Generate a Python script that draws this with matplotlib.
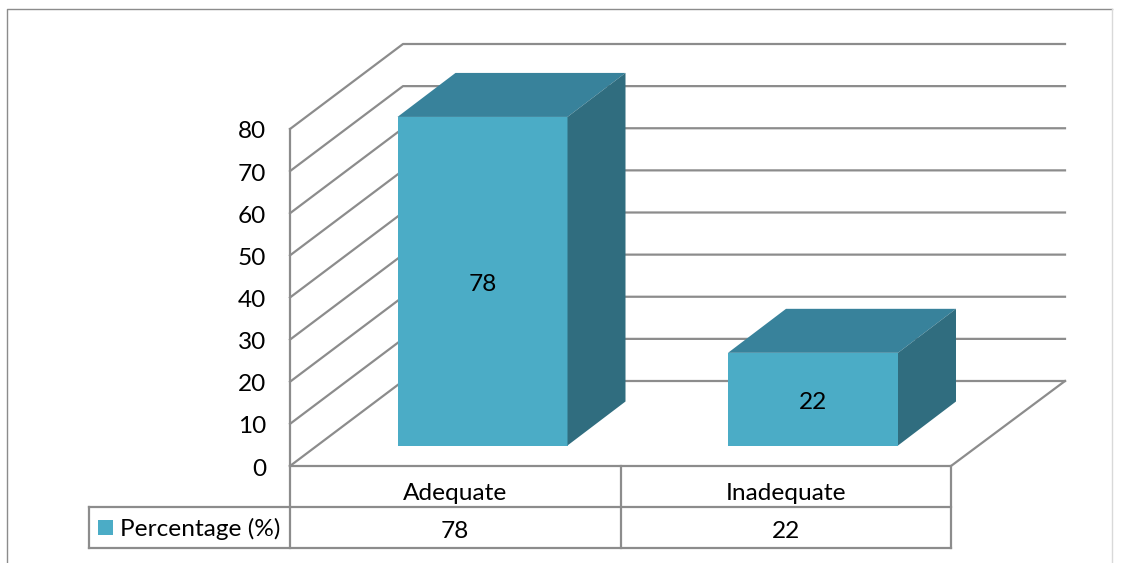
import matplotlib
matplotlib.use("Agg")
import matplotlib.pyplot as plt
from matplotlib.patches import Polygon, Rectangle

categories = ["Adequate", "Inadequate"]
values = [78, 22]
ticks = [0, 10, 20, 30, 40, 50, 60, 70, 80]
series_name = "Percentage (%)"

W, H = 1126, 563
plt.rcParams['font.family'] = ['Lato', 'DejaVu Sans']
fig = plt.figure(figsize=(W/100, H/100), dpi=100)
ax = fig.add_axes([0, 0, 1, 1])
ax.set_xlim(0, W); ax.set_ylim(H, 0); ax.axis('off')

GRID = '#8c8c8c'
FRONT, TOP, SIDE = '#4bacc6', '#38829b', '#306d7f'
fs = 17.6
lw = 1.6

# chart frame
ax.plot([7, 7, 1112], [563, 9, 9], color='#8c8c8c', lw=1.0)
ax.plot([1112, 1112], [9, 563], color='#d9d9d9', lw=1.0)

# 3-D plotting box geometry
x0, x1 = 290, 951
y0, y80 = 466, 129
dx, dy = 113, -85
def yv(v):
    return y0 + (y80 - y0) * v / 80

for t in ticks:
    y = yv(t)
    ax.plot([x0, x0 + dx, x1 + dx + 1], [y, y + dy, y + dy], color=GRID, lw=lw, zorder=1)
    ax.text(266, y + 3, str(t), ha='right', va='center', fontsize=fs, color='black')
ax.plot([x0, x0], [y0, y80], color=GRID, lw=lw, zorder=1)
ax.plot([x0, x1, x1 + dx + 1], [y0, y0, y0 + dy], color=GRID, lw=lw, zorder=1)

# bars
bar_w = 170
bar_dx, bar_dy = 58, -44
base = 445.5
cell = (x1 - x0) / 2
unit = (y0 - y80) / 80
for i, v in enumerate(values):
    left = x0 + 107.5 + i * cell
    right = left + bar_w
    top = base - v * unit
    ax.add_patch(Polygon([(left, base), (right, base), (right, top), (left, top)], fc=FRONT, ec='none', zorder=3))
    ax.add_patch(Polygon([(left, top), (right, top), (right + bar_dx, top + bar_dy), (left + bar_dx, top + bar_dy)], fc=TOP, ec='none', zorder=3))
    ax.add_patch(Polygon([(right, base), (right + bar_dx, base + bar_dy), (right + bar_dx, top + bar_dy), (right, top)], fc=SIDE, ec='none', zorder=3))
    ax.text((left + right) / 2, (top + base) / 2 + 3, str(v), ha='center', va='center', fontsize=fs, color='black', zorder=4)

# data table
ty1, ty2, ty3 = 466, 507, 548
xm = (x0 + x1) / 2
lx = 89
tc = '#8c8c8c'
for xs, ys in [([x0, x0], [ty1, ty3]), ([xm, xm], [ty1, ty3]), ([x1, x1], [ty1, ty3]),
               ([lx, x1], [ty2, ty2]), ([lx, x1], [ty3, ty3]), ([lx, lx], [ty2, ty3])]:
    ax.plot(xs, ys, color=tc, lw=lw, zorder=2)
centers = [(x0 + xm) / 2, (xm + x1) / 2]
for c, name, v in zip(centers, categories, values):
    ax.text(c, 494, name, ha='center', va='center', fontsize=fs, color='black')
    ax.text(c, 531, str(v), ha='center', va='center', fontsize=fs, color='black')
ax.add_patch(Rectangle((98, 520), 15, 15, fc=FRONT, ec='none'))
ax.text(120, 529, series_name, ha='left', va='center', fontsize=fs, color='black')

fig.savefig('out.png', dpi=100)
